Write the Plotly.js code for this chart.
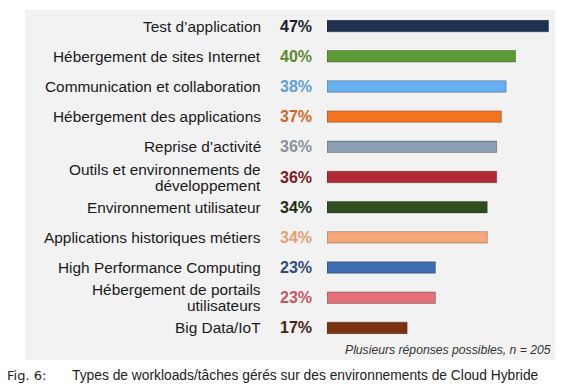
<!DOCTYPE html>
<html><head><meta charset="utf-8">
<script src="https://cdn.plot.ly/plotly-3.0.1.min.js"></script>
<style>html,body{margin:0;padding:0;background:#fff}#chart{width:568px;height:387px}</style>
</head><body><div id="chart"></div>
<script>
const categories = [
  "Test d’application",
  "Hébergement de sites Internet",
  "Communication et collaboration",
  "Hébergement des applications",
  "Reprise d’activité",
  "Outils et environnements de<br>développement",
  "Environnement utilisateur",
  "Applications historiques métiers",
  "High Performance Computing",
  "Hébergement de portails<br>utilisateurs",
  "Big Data/IoT"
];
const values = [47, 40, 38, 37, 36, 36, 34, 34, 23, 23, 17];
const barColors = ["#1e3151","#5c9a37","#66b0f2","#f47321","#8b9eb2","#b12a36","#2f4d1f","#f7a878","#3e6cb0","#e3727a","#7b3210"];
const labelColors = ["#1a1f2e","#5a8a30","#5e9fd8","#d2651f","#8a9099","#7c1a22","#1f2d17","#e6a072","#2f4b7c","#c55862","#4a2210"];
const note = "Plusieurs réponses possibles, n = 205";
const figLabel = "Fig. 6:";
const caption = "Types de workloads/tâches gérés sur des environnements de Cloud Hybride";

const W = 568, H = 387;
const L = 327, R = 549, T = 11, B = 343;
const px = x => (x - L) / (R - L);
const py = y => (B - y) / (B - T);

const annotations = [];
categories.forEach((c, i) => {
  const lines = c.split("<br>");
  lines.forEach((ln, k) => {
    annotations.push({
      text: ln, xref: "paper", yref: "y", x: px(263), y: i,
      xanchor: "right", yanchor: "middle", showarrow: false,
      yshift: (lines.length - 1) * 8 - k * 16,
      font: {family: "Liberation Sans, Arial, sans-serif", size: 15.4, color: "#1a1a1a"}
    });
  });
  annotations.push({
    text: "<b>" + values[i] + "%</b>", xref: "paper", yref: "y", x: px(314), y: i,
    xanchor: "right", yanchor: "middle", showarrow: false,
    font: {family: "Liberation Sans, Arial, sans-serif", size: 16, color: labelColors[i]}
  });
});
annotations.push({
  text: "<i>" + note + "</i>", xref: "paper", yref: "paper", x: px(553), y: py(350),
  xanchor: "right", yanchor: "middle", showarrow: false,
  font: {family: "Liberation Sans, Arial, sans-serif", size: 12.2, color: "#333"}
});
annotations.push({
  text: figLabel, xref: "paper", yref: "paper", x: px(5), y: py(375),
  xanchor: "left", yanchor: "middle", showarrow: false,
  font: {family: "DejaVu Sans, sans-serif", size: 13, color: "#222"}
});
annotations.push({
  text: caption, xref: "paper", yref: "paper", x: px(70), y: py(375),
  xanchor: "left", yanchor: "middle", showarrow: false,
  font: {family: "Liberation Sans, Arial, sans-serif", size: 13.8, color: "#222"}
});

const data = [{
  type: "bar", orientation: "h",
  x: values, y: categories.map((c, i) => i),
  width: 0.38,
  marker: {color: barColors, line: {color: "rgba(0,0,0,0.35)", width: 0.8}},
  hoverinfo: "none"
}];

const layout = {
  width: W, height: H,
  margin: {l: L, r: W - R, t: T, b: H - B, pad: 0},
  paper_bgcolor: "#ffffff", plot_bgcolor: "rgba(0,0,0,0)",
  showlegend: false,
  xaxis: {range: [0, 47.1], visible: false, fixedrange: true},
  yaxis: {range: [10.5, -0.5], visible: false, fixedrange: true},
  shapes: [{
    type: "rect", xref: "paper", yref: "paper", layer: "below",
    x0: px(25), x1: px(555), y0: py(360), y1: py(10),
    fillcolor: "#f2f2f2", line: {width: 0}
  }],
  annotations: annotations
};
Plotly.newPlot("chart", data, layout, {staticPlot: true, displayModeBar: false});
</script></body></html>
